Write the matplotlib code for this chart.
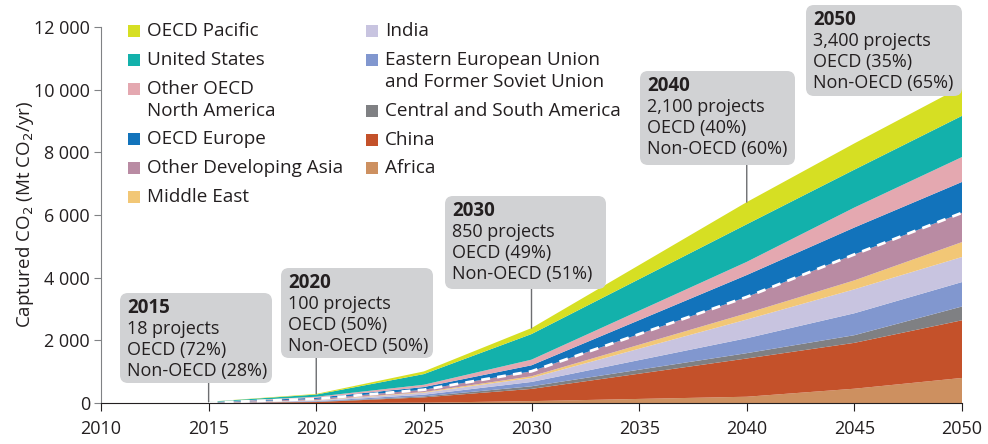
import numpy as np
import matplotlib
matplotlib.use('Agg')
import matplotlib.pyplot as plt
from matplotlib.patches import FancyBboxPatch, Rectangle
from matplotlib.ticker import FuncFormatter

plt.rcParams['font.family'] = ['Open Sans', 'DejaVu Sans']

# anos e captura por regiao (Mt CO2/yr), de baixo para cima
anos = [2015, 2020, 2025, 2030, 2040, 2045, 2050]
africa = [0, 0, 10, 60, 200, 456, 800]
china = [2, 30, 170, 390, 1221, 1464, 1840]
central_sul_america = [1, 10, 32, 84, 170, 244, 440]
europa_leste_urss = [2, 20, 53, 138, 477, 700, 780]
india = [1, 20, 63, 128, 596, 764, 800]
oriente_medio = [1, 10, 22, 53, 200, 286, 475]
outros_asia = [3, 40, 74, 159, 520, 828, 935]
oecd_europa = [8, 40, 85, 191, 700, 859, 985]
outros_america_norte = [8, 30, 74, 180, 420, 637, 795]
estados_unidos = [12, 70, 340, 817, 1200, 1209, 1315]
oecd_pacifico = [2, 20, 85, 191, 707, 838, 935]

camadas = [africa, china, central_sul_america, europa_leste_urss, india, oriente_medio,
           outros_asia, oecd_europa, outros_america_norte, estados_unidos, oecd_pacifico]
cores = ['#cd9060', '#c4512a', '#7f8083', '#8197cf', '#c8c4e0', '#f2c776',
         '#b98ba3', '#1273bb', '#e4a8b0', '#13b1ab', '#d6df23']

# legenda (coluna, texto)
legenda_col1 = ['OECD Pacific', 'United States', 'Other OECD\nNorth America',
                'OECD Europe', 'Other Developing Asia', 'Middle East']
cores_col1 = ['#d6df23', '#13b1ab', '#e4a8b0', '#1273bb', '#b98ba3', '#f2c776']
legenda_col2 = ['India', 'Eastern European Union\nand Former Soviet Union',
                'Central and South America', 'China', 'Africa']
cores_col2 = ['#c8c4e0', '#8197cf', '#7f8083', '#c4512a', '#cd9060']

# caixas de anotacao
caixa_anos = [2015, 2020, 2030, 2040, 2050]
caixa_textos = [['18 projects', 'OECD (72%)', 'Non-OECD (28%)'],
                ['100 projects', 'OECD (50%)', 'Non-OECD (50%)'],
                ['850 projects', 'OECD (49%)', 'Non-OECD (51%)'],
                ['2,100 projects', 'OECD (40%)', 'Non-OECD (60%)'],
                ['3,400 projects', 'OECD (35%)', 'Non-OECD (65%)']]

W, H = 988, 444
COR_TEXTO = '#231f20'


def px(x, y):
    return x / W, 1 - y / H


fig = plt.figure(figsize=(W / 100, H / 100), dpi=100)
ax = fig.add_axes([101 / W, 1 - 403 / H, (962 - 101) / W, (403 - 27) / H])

dados = np.array(camadas, dtype=float)
ax.stackplot(anos, dados, colors=cores, linewidth=0)
nao_oecd = dados[:7].sum(axis=0)
total = dados.sum(axis=0)
ax.plot(anos, nao_oecd, color='white', lw=2, ls=(0, (3.2, 2.6)))

ax.set_xlim(2010, 2050)
ax.set_ylim(0, 12000)
ax.set_xticks(range(2010, 2051, 5))
ax.set_yticks(range(0, 12001, 2000))
ax.yaxis.set_major_formatter(FuncFormatter(lambda v, p: f'{v:,.0f}'.replace(',', ' ')))
ax.tick_params(axis='both', labelsize=13, colors=COR_TEXTO, direction='out', length=5)
ax.tick_params(axis='y', color='#808285', pad=3)
ax.tick_params(axis='x', pad=6, length=6)
for s in ['top', 'right']:
    ax.spines[s].set_visible(False)
ax.spines['left'].set_color('#808285')
ax.spines['bottom'].set_color(COR_TEXTO)
ax.set_ylabel('Captured CO$_2$ (Mt CO$_2$/yr)', fontsize=13.5, color=COR_TEXTO)
ax.yaxis.set_label_coords(-0.075, 0.5)

# legenda manual
for x0, linhas, rotulos, cs in [(128, [31, 60, 89, 139, 168, 197], legenda_col1, cores_col1),
                                (366, [31, 60, 111, 140, 168], legenda_col2, cores_col2)]:
    for y0, rot, c in zip(linhas, rotulos, cs):
        fx, fy = px(x0, y0 + 6)
        fig.add_artist(Rectangle((fx, fy), 12 / W, 12 / H, transform=fig.transFigure,
                                 facecolor=c, edgecolor='none'))
        for i, parte in enumerate(rot.split('\n')):
            fig.text(*px(x0 + 19, y0 + i * 22), parte, fontsize=13.6, color=COR_TEXTO,
                     va='center', ha='left')

# caixas cinzas
caixas = [(120, 293, 152, 90), (281, 268, 152, 90), (445, 196, 161, 93),
          (640, 71, 155, 94), (806, 5, 156, 91)]
for ano, textos, (bx, by, bw, bh) in zip(caixa_anos, caixa_textos, caixas):
    fx, fy = px(bx, by + bh)
    fig.add_artist(FancyBboxPatch((fx, fy), bw / W, bh / H, transform=fig.transFigure,
                                  boxstyle=f'round,pad=0,rounding_size={8 / W}',
                                  mutation_aspect=W / H, facecolor='#d1d2d4',
                                  edgecolor='none', zorder=2))
    fig.text(*px(bx + 7, by + 15), str(ano), fontsize=13.5, fontweight='bold',
             color=COR_TEXTO, va='center', zorder=3)
    for i, t in enumerate(textos):
        fig.text(*px(bx + 7, by + 36 + i * 21), t, fontsize=13, color=COR_TEXTO,
                 va='center', zorder=3)
    if ano != 2050:
        k = anos.index(ano)
        ax.annotate('', xy=(ano, total[k]), xycoords='data',
                    xytext=px(101 + (ano - 2010) * (861 / 40), by + bh),
                    textcoords='figure fraction',
                    arrowprops=dict(arrowstyle='-', color='#6d6e71', lw=1,
                                    shrinkA=0, shrinkB=0))

fig.savefig('out.png', dpi=100)
